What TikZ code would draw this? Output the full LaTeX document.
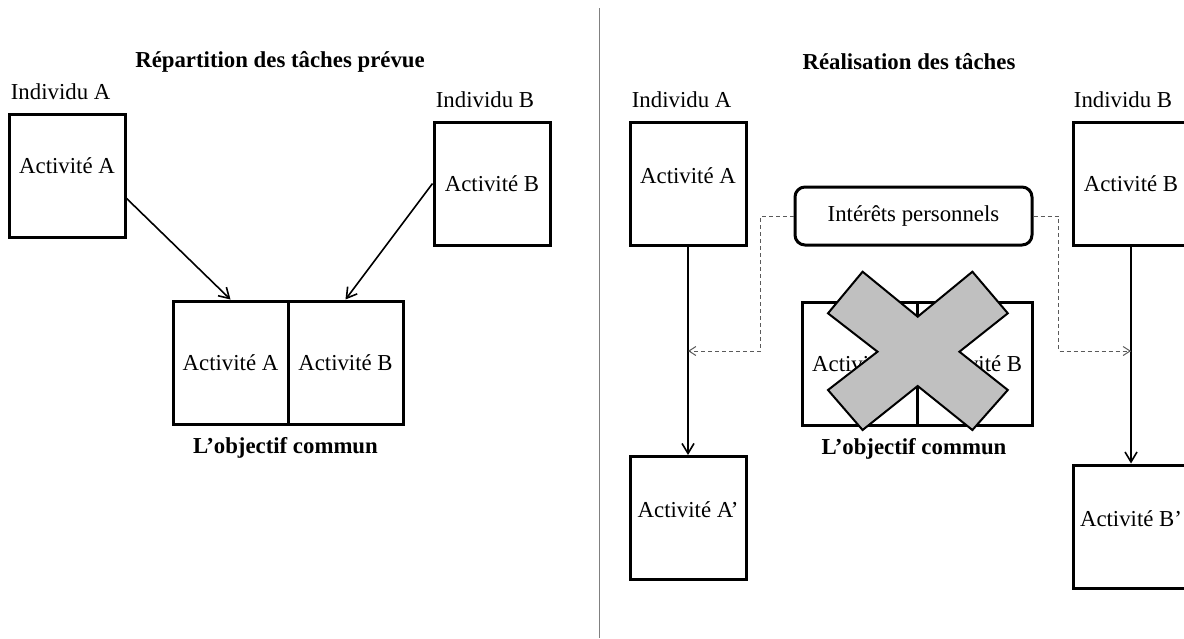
\documentclass[tikz,border=0pt]{standalone}
\usepackage{fontspec}
\setmainfont{Liberation Serif}
\usetikzlibrary{positioning,arrows.meta}
\definecolor{croix}{RGB}{192,192,192}
\definecolor{trait}{RGB}{90,90,90}
\begin{document}
\begin{tikzpicture}[x=0.5pt,y=-0.5pt,font=\fontsize{11.4pt}{13pt}\selectfont]
	\tikzstyle{activite} = [rectangle, minimum width=58pt, minimum height=61.5pt, inner sep=0pt, draw=black, line width=1.5pt]
	\tikzstyle{moitie} = [activite, minimum width=57.5pt]
	\tikzstyle{interet} = [rectangle, rounded corners=5pt, minimum width=118.5pt, minimum height=29pt, draw=black, line width=1.5pt]
	\tikzstyle{titre} = [font=\fontsize{11.4pt}{13pt}\selectfont\bfseries]
	\tikzstyle{individu} = [inner sep=0pt]
	\tikzstyle{arrow} = [line width=0.8pt,-{Straight Barb[length=5pt,width=6pt]}]
	\tikzstyle{pointille} = [trait, line width=0.5pt, dash pattern=on 2pt off 1.5pt, -{Straight Barb[length=3.5pt,width=4.5pt]}]
	
	\useasboundingbox (0,0) rectangle (1184,638);
	\draw [gray, line width=0.5pt] (599,8) -- (599,638);
	
	% repartition prevue
	\node (t1) [titre] at (280,62) {Répartition des tâches prévue};
	\node (lA) [activite, label={[yshift=4.75pt]center:Activité A}] at (67,175.5) {};
	\node (lB) [activite] at (492,183.5) {Activité B};
	\node (iA) [individu, above right=6.25pt and 1.5pt of lA.north west] {Individu A};
	\node (iB) [individu, above right=6.25pt and 1.5pt of lB.north west] {Individu B};
	\node (cA) [moitie] at (230.5,362.5) {Activité A};
	\node (cB) [moitie, right=-1.5pt of cA] {Activité B};
	\node (obj1) [titre, below=2.4pt of cA.south east, xshift=-2pt] {L’objectif commun};
	
	\draw [arrow] (lA.-21) -- (cA.north);
	\draw [arrow] (lB.west) -- (cB.north);
	
	% realisation
	\node (t2) [titre] at (909,62) {Réalisation des tâches};
	\node (rA) [activite, label={[yshift=3.75pt]center:Activité A}] at (688,183.5) {};
	\node (rA2) [activite, label={[yshift=4pt]center:Activité A’}] at (688,518) {};
	\node (rB) [activite] at (1131,183.5) {Activité B};
	\node (rB2) [activite, label={[yshift=4pt]center:Activité B’}] at (1131,526.5) {};
	\node (jA) [individu, above right=6.25pt and 1.5pt of rA.north west] {Individu A};
	\node (jB) [individu, above right=6.25pt and 1pt of rB.north west] {Individu B};
	\node (ip) [interet] at (913.5,216) {Intérêts personnels};
	\node (rcA) [moitie] at (860,363.5) {Activité A};
	\node (rcB) [moitie, right=-1.5pt of rcA] {Activité B};
	\node (obj2) [titre, below=2.4pt of rcA.south east, xshift=-2.5pt] {L’objectif commun};
	
	\coordinate (dA) at (rA.south |- 0,351);
	\coordinate (dB) at (rB.south |- 0,351);
	
	\draw [arrow] (rA) -- (rA2);
	\draw [arrow] (rB) -- (rB2);
	\draw [pointille] (ip.west) -- ++(-33,0) |- (dA);
	\draw [pointille] (ip.east) -- ++(25,0) |- (dB);
	
	% croix
	\draw [fill=croix, line width=1pt] (862.6,271.7) -- (917.7,316.7) -- (972.4,271.7) -- (1007.8,313.3) -- (959.4,351.7) -- (1007.8,390) -- (972.4,430) -- (917.7,386) -- (862.6,430) -- (828,390) -- (877.5,351.7) -- (828,313.3) -- cycle;
\end{tikzpicture}
\end{document}
